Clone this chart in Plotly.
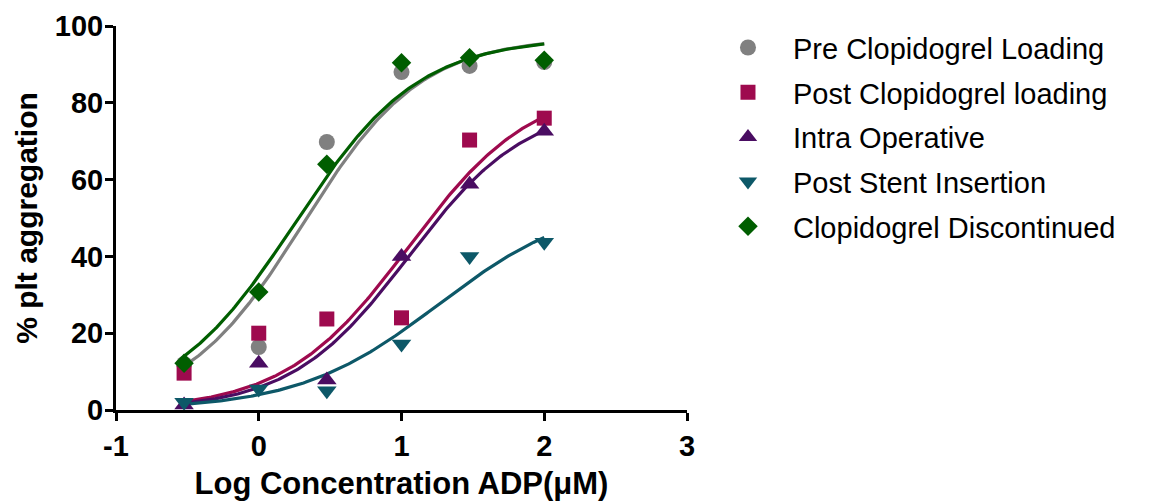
import numpy as np
import plotly.graph_objects as go

# log10 of ADP concentration (uM): 0.3, 1, 3, 10, 30, 100
log_adp = [-0.523, 0.0, 0.477, 1.0, 1.477, 2.0]

series_names = [
    "Pre Clopidogrel Loading",
    "Post Clopidogrel loading",
    "Intra Operative",
    "Post Stent Insertion",
    "Clopidogrel Discontinued",
]

pre_loading = [12.0, 16.4, 69.8, 88.0, 89.6, 90.6]
post_loading = [9.6, 20.0, 23.7, 24.0, 70.3, 76.0]
intra_operative = [1.3, 12.2, 7.8, 40.0, 58.8, 72.6]
post_stent = [2.0, 5.5, 5.0, 17.2, 40.0, 43.7]
discontinued = [12.2, 30.7, 64.0, 90.4, 91.7, 91.1]

# sigmoidal dose-response fit parameters: top, hill slope, logEC50 (bottom = 0)
fit_top = [97.0, 85.0, 80.0, 55.0, 97.0]
fit_hill = [1.05, 1.0, 1.05, 0.88, 1.0]
fit_logec50 = [0.31, 1.05, 1.05, 1.26, 0.25]

colors = ["#808080", "#9e0a4e", "#4a0d62", "#0d5868", "#005e00"]
symbols = ["circle", "square", "triangle-up", "triangle-down", "diamond"]
sizes = [16, 15, 17, 17, 15]

values = [pre_loading, post_loading, intra_operative, post_stent, discontinued]

FONT = "Liberation Sans, Arial, sans-serif"

fig = go.Figure()

xfit = np.linspace(min(log_adp), max(log_adp), 200)
for i in range(5):
    yfit = fit_top[i] / (1 + 10 ** ((fit_logec50[i] - xfit) * fit_hill[i]))
    fig.add_trace(go.Scatter(
        x=xfit, y=yfit, mode="lines",
        line=dict(color=colors[i], width=3.2),
        showlegend=False, hoverinfo="skip", cliponaxis=False,
    ))

for i in range(5):
    fig.add_trace(go.Scatter(
        x=log_adp, y=values[i], mode="markers", name=series_names[i],
        legendgroup=f"g{i}",
        marker=dict(symbol=symbols[i], color=colors[i], size=sizes[i], line=dict(width=0)),
        cliponaxis=False,
    ))

fig.update_layout(
    width=1154, height=504,
    margin=dict(l=116, r=467, t=26, b=94, autoexpand=False),
    paper_bgcolor="white", plot_bgcolor="white",
    font=dict(family=FONT, color="black"),
    legend=dict(
        x=1.028, y=1.01, xanchor="left", yanchor="top",
        font=dict(family=FONT, size=29, color="black"),
        bgcolor="rgba(0,0,0,0)", itemwidth=80, tracegroupgap=4,
    ),
    xaxis=dict(
        range=[-1, 3], tickvals=[-1, 0, 1, 2, 3], ticktext=["-1", "0", "1", "2", "3"],
        showline=True, linecolor="black", linewidth=3,
        ticks="outside", ticklen=8, tickwidth=3, tickcolor="black",
        showgrid=False, zeroline=False, automargin=False,
        tickfont=dict(family=FONT, size=29, color="black", weight="bold"),
        title=dict(text="<b>Log Concentration ADP(μM)</b>", standoff=12,
                   font=dict(family=FONT, size=31, color="black")),
    ),
    yaxis=dict(
        range=[0, 100], tickvals=[0, 20, 40, 60, 80, 100],
        showline=True, linecolor="black", linewidth=3,
        ticks="outside", ticklen=8, tickwidth=3, tickcolor="black",
        showgrid=False, zeroline=False, automargin=False,
        ticklabelstandoff=-4,
        tickfont=dict(family=FONT, size=29, color="black", weight="bold"),
        title=dict(text="<b>% plt aggregation</b>", standoff=9,
                   font=dict(family=FONT, size=30, color="black")),
    ),
)

fig.write_html("out.html")
